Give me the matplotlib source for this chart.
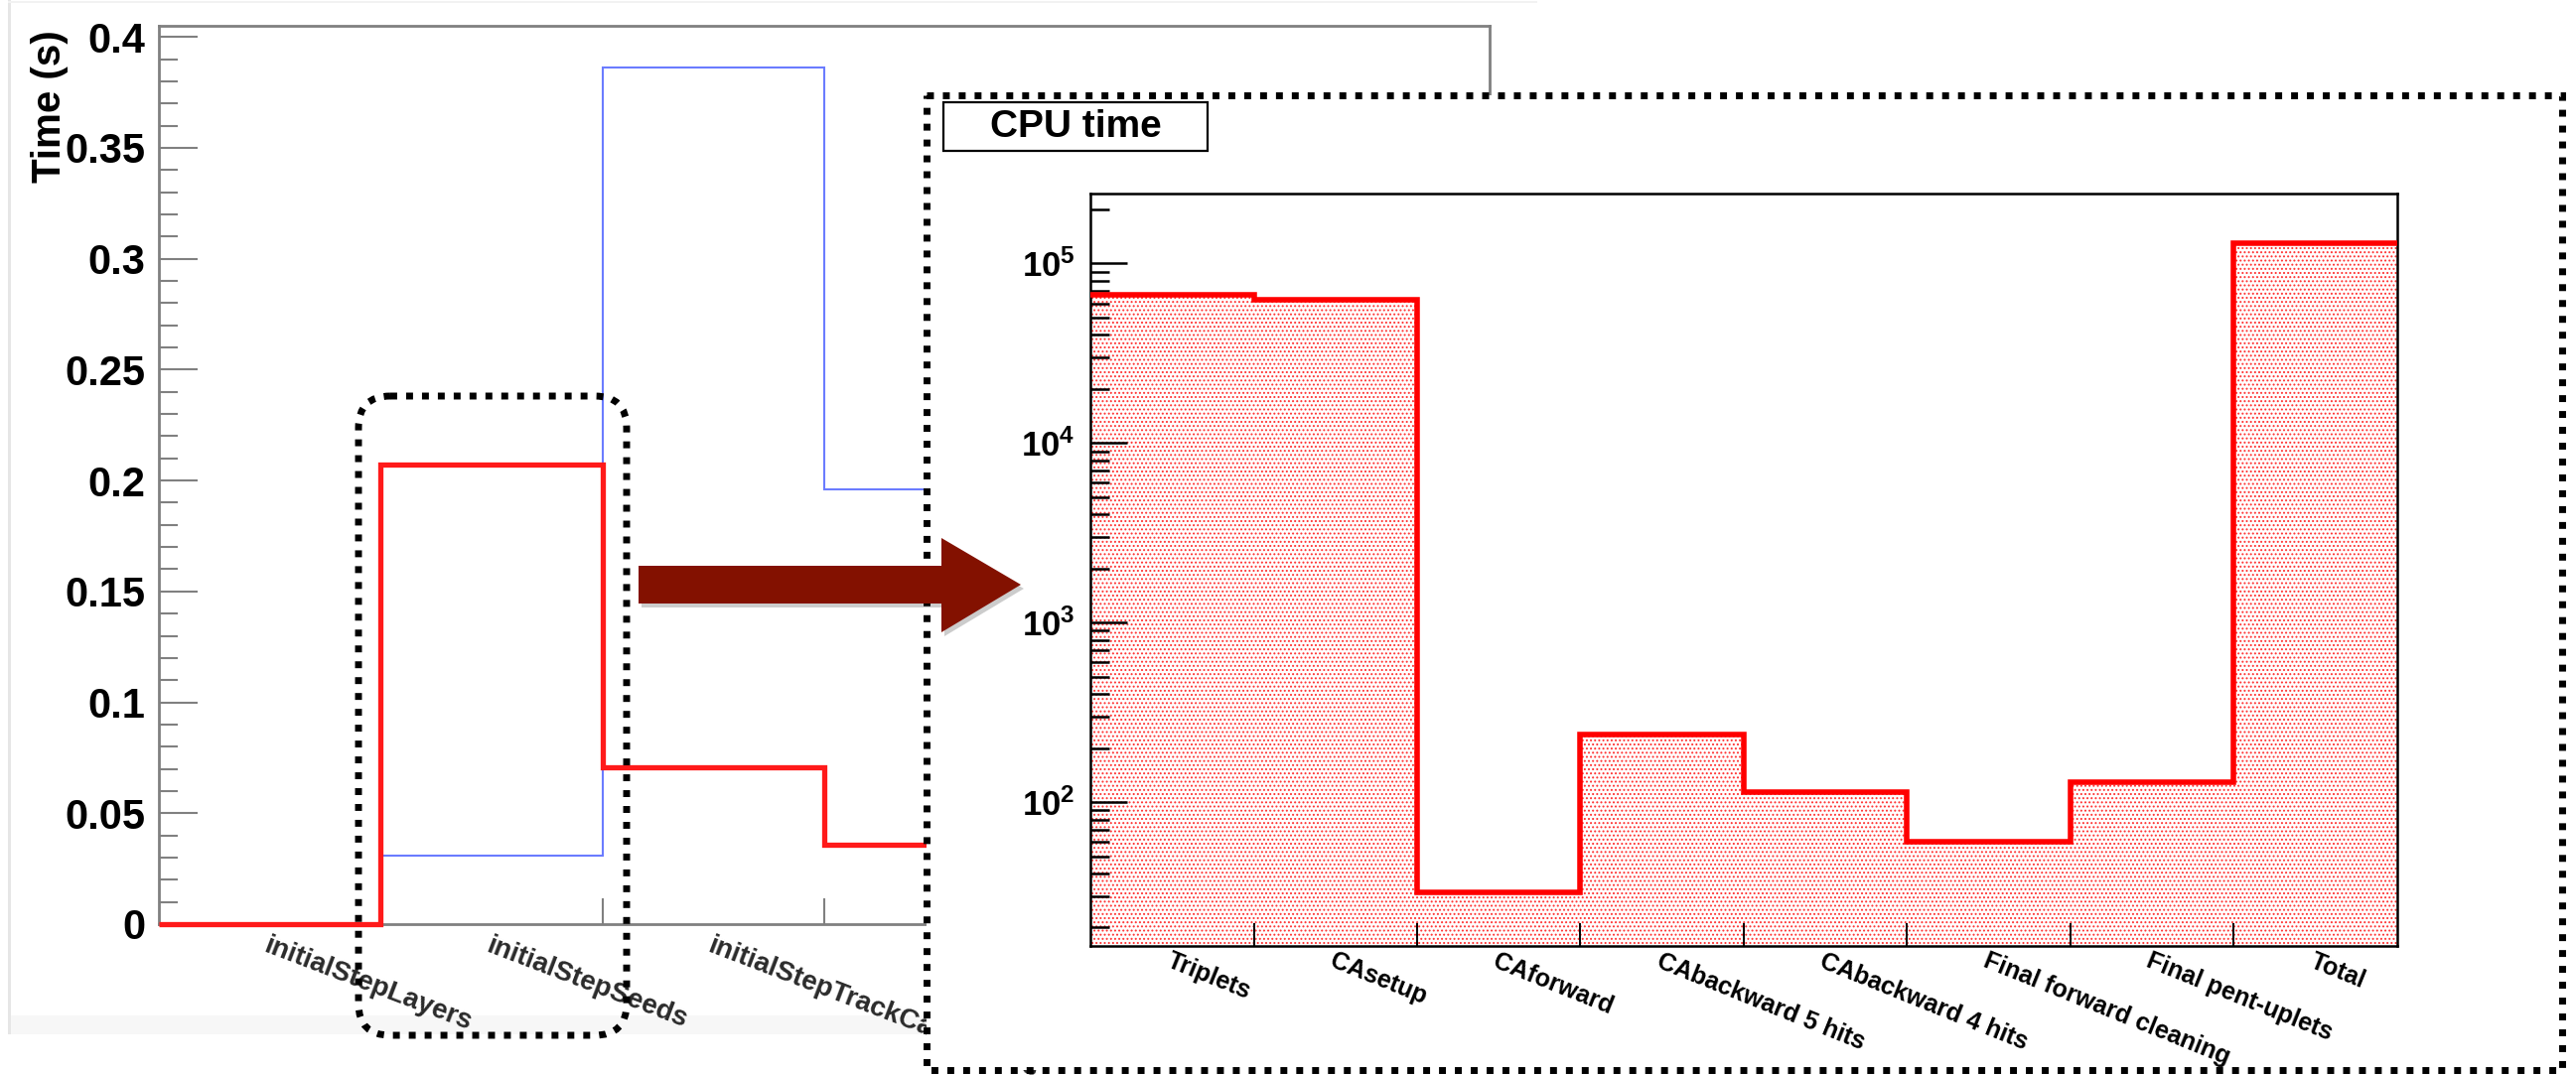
import numpy as np
import matplotlib
matplotlib.use("Agg")
import matplotlib.pyplot as plt
from matplotlib.patches import Rectangle, FancyBboxPatch, Polygon
from matplotlib.ticker import MultipleLocator, FuncFormatter, LogLocator, NullFormatter

plt.rcParams['font.family'] = ['Liberation Sans', 'DejaVu Sans']
plt.rcParams['font.weight'] = 'bold'
plt.rcParams['mathtext.fontset'] = 'custom'
plt.rcParams['mathtext.rm'] = 'Liberation Sans'
plt.rcParams['mathtext.bf'] = 'Liberation Sans:bold'
plt.rcParams['hatch.linewidth'] = 0.9
plt.rcParams['hatch.color'] = '#ff3030'

# left (background) chart: time per module, only first bins are visible
left_labels = ["initialStepLayers", "initialStepSeeds", "initialStepTrackCandidates"]
left_red = [0.0, 0.207, 0.0706, 0.0356]
left_blue = [0.0, 0.031, 0.386, 0.196]
left_nbins = 6

# right (zoomed) chart: CPU time per CA step
cpu_labels = ["Triplets", "CAsetup", "CAforward", "CAbackward 5 hits",
              "CAbackward 4 hits", "Final forward cleaning", "Final pent-uplets", "Total"]
cpu_time = [66500, 62400, 31.4, 238, 113, 60, 129, 130000]

W, H = 2594, 1083
fig = plt.figure(figsize=(W / 100, H / 100), dpi=100)


def box(x0, y0, x1, y1):
    return [x0 / W, 1 - y1 / H, (x1 - x0) / W, (y1 - y0) / H]


def canvas(z):
    a = fig.add_axes([0, 0, 1, 1], zorder=z)
    a.set_xlim(0, W)
    a.set_ylim(H, 0)
    a.axis('off')
    return a


# screenshot edges behind the left chart
bg = canvas(0)
bg.add_patch(Rectangle((8, 1023), 1540, 19, color='#f7f7f7', lw=0))
bg.add_patch(Rectangle((8, 0), 3, 1042, color='#e6e6e6', lw=0))
bg.add_patch(Rectangle((8, 1), 1540, 2, color='#f2f2f2', lw=0))

# ---- left chart
gray = '#808080'
ax1 = fig.add_axes(box(160, 26, 1500, 931), zorder=1)
ax1.set_facecolor('none')
edges = np.arange(len(left_red) + 1)
ax1.stairs(left_blue, edges, color='#6b7cff', lw=1.5, baseline=None)
ax1.stairs(left_red, edges, color='#ff1a1a', lw=3.8, baseline=None, clip_on=False, zorder=5)
ax1.set_xlim(0, left_nbins)
ax1.set_ylim(0, 0.405)
for s in ax1.spines.values():
    s.set_color(gray)
    s.set_linewidth(2)
ax1.yaxis.set_major_locator(MultipleLocator(0.05))
ax1.yaxis.set_minor_locator(MultipleLocator(0.01))
ax1.yaxis.set_major_formatter(FuncFormatter(lambda v, p: '%g' % round(v, 2)))
ax1.tick_params(axis='y', which='major', direction='in', length=28, width=1.5,
                color=gray, pad=10, labelsize=30)
ax1.tick_params(axis='y', which='minor', direction='in', length=14, width=1.5, color=gray)
ax1.set_xticks(np.arange(1, left_nbins))
ax1.tick_params(axis='x', direction='in', length=19, width=1.5, color=gray, labelbottom=False)
for i, lab in enumerate(left_labels):
    ax1.text(i + 0.5, -0.01, lab, transform=ax1.get_xaxis_transform(), rotation=-21,
             rotation_mode='anchor', ha='left', va='top', fontsize=20, color='#2a2a2a')
fig.text(50 / W, 1 - 30 / H, "Time (s)", rotation=90, ha='center', va='top',
         fontsize=29, fontweight='bold')

# ---- overlay: white panel, dotted frames, arrow
ov = canvas(2)
ov.add_patch(Rectangle((933, 96), 1647, 982, facecolor='white', edgecolor='none'))
ov.add_patch(Rectangle((933, 96), 1647, 982, fill=False, edgecolor='black', lw=5,
                       ls=(0, (1, 1.3))))
ov.add_patch(FancyBboxPatch((361, 399), 270, 644, boxstyle='round,pad=0,rounding_size=32',
                            fill=False, edgecolor='black', lw=5, ls=(0, (1, 1.3))))
arrow = [(643, 570), (948, 570), (948, 542), (1028, 589), (948, 637), (948, 608), (643, 608)]
ov.add_patch(Polygon([(x + 3, y + 4) for x, y in arrow], closed=True, color='black', alpha=0.2, lw=0))
ov.add_patch(Polygon(arrow, closed=True, color='#831100', lw=0))
ov.add_patch(Rectangle((950, 103), 266, 49, facecolor='white', edgecolor='black', lw=1.6))
ov.text(1083, 128, "CPU time", ha='center', va='center', fontsize=28, fontweight='bold')

# ---- right chart
ax2 = fig.add_axes(box(1098, 195, 2414, 953), zorder=3)
ax2.set_facecolor('none')
ax2.set_yscale('log')
ymin, ymax = 15.8, 2.45e5
edges2 = np.arange(len(cpu_time) + 1)
ax2.fill_between(edges2, np.append(cpu_time, cpu_time[-1]), 1, step='post',
                 facecolor='none', edgecolor='#ff3030', hatch='....', linewidth=0)
ax2.stairs(cpu_time, edges2, color='#ff0000', lw=4, baseline=None, zorder=4)
ax2.set_xlim(0, len(cpu_time))
ax2.set_ylim(ymin, ymax)
for s in ax2.spines.values():
    s.set_linewidth(1.8)
ax2.yaxis.set_major_locator(LogLocator(base=10))
ax2.yaxis.set_minor_locator(LogLocator(base=10, subs=np.arange(2, 10)))
ax2.yaxis.set_major_formatter(FuncFormatter(lambda v, p: r'$\mathbf{10^{%d}}$' % round(np.log10(v))))
ax2.yaxis.set_minor_formatter(NullFormatter())
ax2.tick_params(axis='y', which='major', direction='in', length=26.5, width=1.8, pad=11, labelsize=25)
ax2.tick_params(axis='y', which='minor', direction='in', length=13.5, width=1.8)
ax2.set_xticks(np.arange(1, len(cpu_time)))
ax2.tick_params(axis='x', direction='in', length=16.5, width=1.4, labelbottom=False)
for i, lab in enumerate(cpu_labels):
    ax2.text(i + 0.5, -0.004, lab, transform=ax2.get_xaxis_transform(), rotation=-22,
             rotation_mode='anchor', ha='left', va='top', fontsize=18, fontweight='bold')

fig.savefig('out.png', dpi=100)
